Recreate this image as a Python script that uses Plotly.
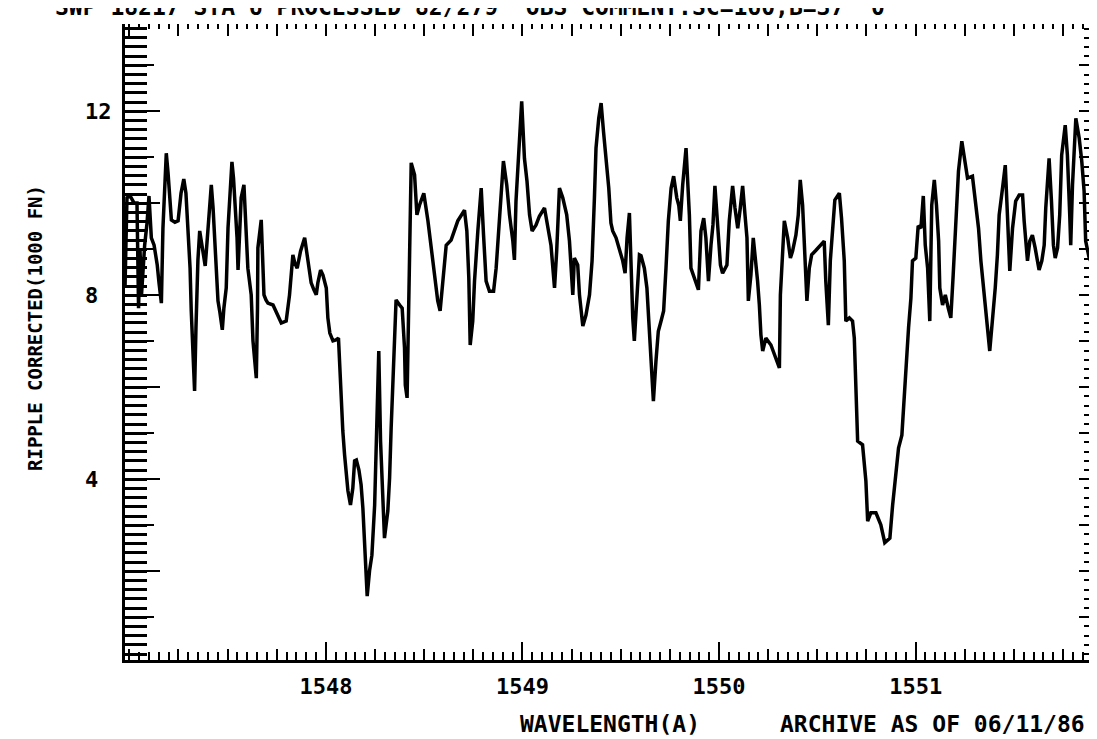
import plotly.graph_objects as go

# ---------------- data ----------------
wavelength = [
    1546.978, 1546.988, 1547.004, 1547.024, 1547.039, 1547.047, 1547.054, 1547.062, 1547.078, 1547.090,
    1547.100, 1547.112, 1547.126, 1547.142, 1547.151, 1547.163, 1547.171, 1547.188, 1547.197, 1547.214,
    1547.232, 1547.248, 1547.263, 1547.277, 1547.288, 1547.298, 1547.309, 1547.315, 1547.324, 1547.332,
    1547.339, 1547.349, 1547.358, 1547.370, 1547.386, 1547.395, 1547.405, 1547.417, 1547.426, 1547.434,
    1547.441, 1547.451, 1547.461, 1547.473, 1547.481, 1547.493, 1547.502, 1547.512, 1547.522, 1547.530,
    1547.539, 1547.548, 1547.553, 1547.563, 1547.569, 1547.583, 1547.593, 1547.603, 1547.620, 1547.629,
    1547.639, 1547.646, 1547.652, 1547.654, 1547.671, 1547.680, 1547.685, 1547.695, 1547.705, 1547.731,
    1547.756, 1547.773, 1547.798, 1547.807, 1547.815, 1547.832, 1547.842, 1547.854, 1547.871, 1547.892,
    1547.908, 1547.925, 1547.939, 1547.951, 1547.959, 1547.973, 1547.985, 1548.002, 1548.010, 1548.020,
    1548.036, 1548.051, 1548.064, 1548.076, 1548.086, 1548.095, 1548.112, 1548.125, 1548.137, 1548.146,
    1548.155, 1548.168, 1548.179, 1548.188, 1548.196, 1548.203, 1548.210, 1548.222, 1548.234, 1548.248,
    1548.256, 1548.264, 1548.269, 1548.278, 1548.290, 1548.298, 1548.315, 1548.324, 1548.332, 1548.341,
    1548.352, 1548.357, 1548.375, 1548.388, 1548.400, 1548.404, 1548.413, 1548.417, 1548.426, 1548.434,
    1548.451, 1548.463, 1548.476, 1548.498, 1548.519, 1548.535, 1548.553, 1548.569, 1548.581, 1548.595,
    1548.612, 1548.637, 1548.671, 1548.705, 1548.717, 1548.727, 1548.734, 1548.747, 1548.756, 1548.773,
    1548.790, 1548.802, 1548.815, 1548.832, 1548.853, 1548.866, 1548.883, 1548.903, 1548.920, 1548.934,
    1548.951, 1548.959, 1548.967, 1548.981, 1548.996, 1549.010, 1549.023, 1549.036, 1549.049, 1549.069,
    1549.086, 1549.112, 1549.129, 1549.145, 1549.163, 1549.174, 1549.188, 1549.205, 1549.225, 1549.239,
    1549.256, 1549.264, 1549.281, 1549.290, 1549.307, 1549.323, 1549.341, 1549.354, 1549.366, 1549.374,
    1549.388, 1549.400, 1549.412, 1549.425, 1549.439, 1549.450, 1549.459, 1549.476, 1549.493, 1549.510,
    1549.522, 1549.532, 1549.544, 1549.552, 1549.561, 1549.569, 1549.583, 1549.595, 1549.603, 1549.620,
    1549.633, 1549.646, 1549.654, 1549.666, 1549.679, 1549.691, 1549.705, 1549.718, 1549.730, 1549.742,
    1549.756, 1549.769, 1549.785, 1549.795, 1549.803, 1549.815, 1549.832, 1549.840, 1549.849, 1549.857,
    1549.874, 1549.895, 1549.908, 1549.922, 1549.933, 1549.946, 1549.959, 1549.969, 1549.979, 1549.993,
    1550.007, 1550.018, 1550.040, 1550.052, 1550.069, 1550.081, 1550.095, 1550.108, 1550.120, 1550.132,
    1550.142, 1550.149, 1550.162, 1550.174, 1550.183, 1550.196, 1550.205, 1550.213, 1550.222, 1550.238,
    1550.264, 1550.289, 1550.307, 1550.312, 1550.323, 1550.332, 1550.349, 1550.363, 1550.374, 1550.391,
    1550.403, 1550.413, 1550.425, 1550.434, 1550.442, 1550.447, 1550.459, 1550.471, 1550.493, 1550.518,
    1550.535, 1550.543, 1550.556, 1550.566, 1550.578, 1550.589, 1550.612, 1550.623, 1550.637, 1550.645,
    1550.663, 1550.679, 1550.688, 1550.696, 1550.701, 1550.705, 1550.730, 1550.747, 1550.756, 1550.772,
    1550.798, 1550.823, 1550.843, 1550.869, 1550.883, 1550.899, 1550.913, 1550.930, 1550.942, 1550.954,
    1550.964, 1550.976, 1550.984, 1551.001, 1551.013, 1551.027, 1551.039, 1551.049, 1551.061, 1551.072,
    1551.082, 1551.095, 1551.106, 1551.117, 1551.123, 1551.137, 1551.151, 1551.166, 1551.179, 1551.191,
    1551.204, 1551.218, 1551.235, 1551.247, 1551.264, 1551.289, 1551.303, 1551.320, 1551.332, 1551.345,
    1551.357, 1551.377, 1551.391, 1551.405, 1551.416, 1551.425, 1551.442, 1551.456, 1551.467, 1551.479,
    1551.493, 1551.509, 1551.527, 1551.544, 1551.552, 1551.560, 1551.569, 1551.581, 1551.594, 1551.608,
    1551.620, 1551.628, 1551.642, 1551.654, 1551.662, 1551.671, 1551.679, 1551.691, 1551.701, 1551.710,
    1551.722, 1551.733, 1551.743, 1551.761, 1551.772, 1551.784, 1551.789, 1551.798, 1551.815, 1551.832,
    1551.845, 1551.857, 1551.865, 1551.883, 1551.903, 1551.916, 1551.933, 1551.942,
]

flux = [
    8.16, 10.12, 10.16, 10.01, 10.01, 7.72, 9.03, 8.01, 9.09, 9.57,
    10.16, 9.25, 9.09, 8.66, 8.27, 7.83, 9.46, 11.09, 10.66, 9.64,
    9.59, 9.62, 10.22, 10.53, 10.22, 9.53, 8.59, 7.66, 6.85, 5.92,
    7.29, 8.77, 9.40, 9.03, 8.64, 9.14, 9.68, 10.40, 9.90, 9.25,
    8.59, 7.88, 7.62, 7.25, 7.72, 8.16, 9.46, 10.22, 10.90, 10.55,
    9.96, 9.25, 8.55, 9.57, 10.12, 10.40, 9.57, 8.59, 8.01, 7.01,
    6.53, 6.20, 7.72, 9.03, 9.64, 8.81, 8.01, 7.90, 7.83, 7.79,
    7.57, 7.40, 7.44, 7.72, 8.01, 8.88, 8.70, 8.59, 8.96, 9.25,
    8.81, 8.27, 8.12, 8.01, 8.27, 8.55, 8.44, 8.16, 7.51, 7.18,
    7.01, 7.03, 7.07, 5.92, 5.05, 4.53, 3.75, 3.44, 3.81, 4.40,
    4.42, 4.20, 3.88, 3.38, 2.72, 1.96, 1.46, 2.01, 2.35, 3.44,
    4.75, 6.14, 6.79, 4.83, 3.53, 2.72, 3.31, 4.03, 5.12, 6.25,
    7.35, 7.90, 7.79, 7.72, 6.85, 6.05, 5.77, 6.70, 8.33, 10.88,
    10.62, 9.75, 9.96, 10.22, 9.62, 9.03, 8.31, 7.88, 7.66, 8.38,
    9.09, 9.20, 9.62, 9.85, 9.40, 8.38, 6.92, 7.44, 8.31, 9.40,
    10.33, 9.31, 8.31, 8.09, 8.09, 8.59, 9.75, 10.92, 10.40, 9.75,
    9.18, 8.77, 10.05, 11.05, 12.22, 10.98, 10.48, 9.75, 9.40, 9.53,
    9.72, 9.90, 9.46, 9.09, 8.16, 8.96, 10.33, 10.12, 9.75, 9.18,
    8.01, 8.81, 8.66, 8.01, 7.33, 7.57, 8.01, 8.75, 10.12, 11.20,
    11.85, 12.18, 11.57, 10.98, 10.33, 9.57, 9.40, 9.25, 9.03, 8.75,
    8.48, 9.25, 9.79, 8.38, 7.51, 7.01, 8.01, 8.88, 8.86, 8.59,
    8.16, 7.14, 6.35, 5.70, 6.57, 7.22, 7.44, 7.66, 8.59, 9.62,
    10.33, 10.59, 10.12, 9.96, 9.62, 10.40, 11.20, 10.55, 9.75, 8.59,
    8.38, 8.12, 9.40, 9.68, 9.25, 8.31, 9.09, 9.53, 10.38, 9.46,
    8.66, 8.48, 8.66, 9.62, 10.38, 9.90, 9.46, 9.90, 10.38, 9.75,
    9.25, 7.88, 8.44, 9.25, 8.88, 8.31, 7.79, 7.14, 6.79, 7.07,
    6.92, 6.64, 6.42, 8.01, 9.03, 9.62, 9.25, 8.81, 8.96, 9.31,
    9.75, 10.51, 9.96, 9.25, 8.31, 7.88, 8.59, 8.88, 8.98, 9.09,
    9.18, 8.31, 7.35, 8.75, 9.46, 10.07, 10.22, 9.68, 8.75, 7.44,
    7.51, 7.44, 7.07, 6.20, 5.33, 4.83, 4.75, 3.96, 3.09, 3.27,
    3.27, 3.01, 2.62, 2.72, 3.44, 4.18, 4.68, 4.96, 5.83, 6.57,
    7.29, 7.94, 8.75, 8.81, 9.51, 9.46, 10.16, 9.09, 8.59, 7.44,
    9.96, 10.51, 9.96, 9.18, 8.16, 7.79, 8.01, 7.72, 7.51, 8.44,
    9.62, 10.70, 11.35, 10.98, 10.55, 10.59, 10.12, 9.46, 8.75, 8.09,
    7.66, 6.79, 7.44, 8.16, 8.88, 9.75, 10.33, 10.83, 9.75, 8.53,
    9.46, 10.05, 10.18, 10.18, 9.62, 9.09, 8.75, 9.18, 9.31, 9.03,
    8.75, 8.55, 8.75, 9.09, 9.90, 10.62, 10.98, 10.05, 9.09, 8.81,
    9.03, 9.75, 11.05, 11.70, 11.05, 9.75, 9.09, 10.40, 11.85, 11.42,
    10.92, 10.27, 9.18, 8.81, 8.64, 8.96, 9.03, 9.18,
]

x_range = [1546.978, 1551.943]
y_range = [0.07, 13.9]

x_tick_values = [1548, 1549, 1550, 1551]
x_tick_labels = ["1548", "1549", "1550", "1551"]
y_tick_values = [12, 8, 4]
y_tick_labels = ["12", "8", "4"]

header_text = "SWP 18217 STA 6 PROCESSED 82/279  OBS COMMENT:SC=160,B=37"
header_flag = "0"
y_title = "RIPPLE CORRECTED(1000 FN)"
x_title = "WAVELENGTH(A)"
archive_text = "ARCHIVE AS OF 06/11/86"

# ---------------- figure ----------------
FONT = "DejaVu Sans Mono"
W, H = 1097, 739
L, R, T, B = 117, 4, 16, 87
plot_w = W - L - R
plot_h = H - T - B


def px_x(p):
    return (p - L) / plot_w


def px_y(p):
    return (H - B - p) / plot_h


def bold(size):
    return dict(family=FONT, size=size, color="black", weight="bold")


fig = go.Figure()
fig.add_trace(go.Scatter(
    x=wavelength, y=flux, mode="lines",
    line=dict(color="black", width=3.5), hoverinfo="skip", showlegend=False,
))

# invisible helper traces so that every overlay tick axis gets drawn
for xa, ya in (("x2", "y2"), ("x3", "y3"), ("x4", "y4"), ("x5", "y5")):
    fig.add_trace(go.Scatter(
        x=x_range, y=y_range, mode="lines", xaxis=xa, yaxis=ya,
        line=dict(color="rgba(0,0,0,0)", width=0), hoverinfo="skip", showlegend=False,
    ))


def tick_axis(rng, dtick, tick0, ticklen, side, overlay, anchor, width=2):
    return dict(range=rng, dtick=dtick, tick0=tick0, ticklen=ticklen, side=side,
                overlaying=overlay, anchor=anchor, showticklabels=False,
                showline=False, showgrid=False, zeroline=False,
                ticks="inside", tickcolor="#000000", tickwidth=width)


fig.update_layout(
    width=W, height=H,
    margin=dict(l=L, r=R, t=T, b=B),
    paper_bgcolor="white", plot_bgcolor="white",
    showlegend=False,
    xaxis=dict(
        range=x_range, tickvals=x_tick_values, ticktext=x_tick_labels,
        ticks="inside", ticklen=18, tickwidth=2, tickcolor="black",
        showline=True, linewidth=3, linecolor="black",
        showgrid=False, zeroline=False,
        tickfont=bold(22), ticklabelstandoff=5,
    ),
    # main left axis carries the fine 0.2 ticks
    yaxis=dict(
        range=y_range, tick0=0, dtick=0.2,
        ticks="inside", ticklen=22, tickwidth=3, tickcolor="black",
        showticklabels=False, showline=True, linewidth=3, linecolor="black",
        showgrid=False, zeroline=False,
    ),
    xaxis2=tick_axis(x_range, 0.25, 1548, 11, "bottom", "x", "y"),
    yaxis2=tick_axis(y_range, 1, 0, 29, "left", "y", "x"),
    xaxis3=tick_axis(x_range, 0.25, 1548, 12, "top", "x", "y"),
    yaxis3=tick_axis(y_range, 1, 0, 22, "right", "y", "x"),
    xaxis4=tick_axis(x_range, 0.05, 1548, 8, "bottom", "x", "y"),
    yaxis4=tick_axis(y_range, 2, 0, 35, "left", "y", "x"),
    xaxis5=tick_axis(x_range, 0.05, 1548, 5, "top", "x", "y"),
    yaxis5=tick_axis(y_range, 0.2, 0, 17, "right", "y", "x"),
)

annotations = []
for v, t in zip(y_tick_values, y_tick_labels):
    annotations.append(dict(
        x=px_x(75), xref="paper", y=v, yref="y", text=t, showarrow=False,
        xanchor="left", yanchor="middle", font=bold(22),
    ))
annotations.append(dict(
    x=px_x(45), xref="paper", y=px_y(14), yref="paper", text=header_text,
    showarrow=False, xanchor="left", yanchor="bottom", font=bold(23),
))
annotations.append(dict(
    x=px_x(870), xref="paper", y=px_y(14), yref="paper", text=header_flag,
    showarrow=False, xanchor="center", yanchor="bottom", font=bold(23),
))
annotations.append(dict(
    x=px_x(27), xref="paper", y=px_y(320), yref="paper", text=y_title,
    showarrow=False, textangle=-90, xanchor="center", yanchor="middle", font=bold(19),
))
annotations.append(dict(
    x=px_x(510), xref="paper", y=px_y(716), yref="paper", text=x_title,
    showarrow=False, xanchor="left", yanchor="middle", font=bold(23),
))
annotations.append(dict(
    x=px_x(770), xref="paper", y=px_y(716), yref="paper", text=archive_text,
    showarrow=False, xanchor="left", yanchor="middle", font=bold(23),
))
fig.update_layout(annotations=annotations)

fig.write_html("out.html")
